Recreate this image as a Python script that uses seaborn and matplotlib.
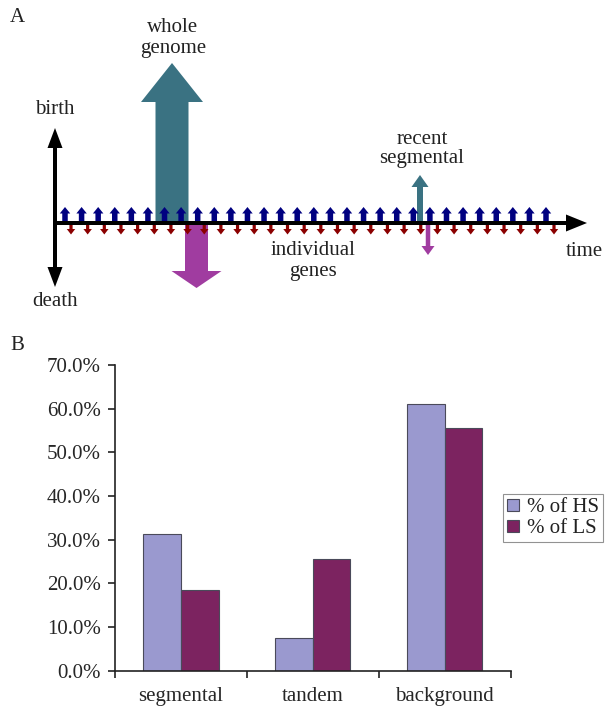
import numpy as np
import pandas as pd
import matplotlib
matplotlib.use("Agg")
import matplotlib.pyplot as plt
import seaborn as sns
from matplotlib.patches import Patch

# ---------------- data ----------------
categories = ["segmental", "tandem", "background"]
series_names = ["% of HS", "% of LS"]
hs_values = [31.3, 7.4, 61.0]
ls_values = [18.5, 25.6, 55.6]
y_ticks = [0, 10, 20, 30, 40, 50, 60, 70]

# diagram (panel A) elements
blue_gene_x = list(np.linspace(65, 546, 30))
red_gene_x = list(np.linspace(71, 554, 30))

HS_COLOR = "#9a99cf"
LS_COLOR = "#7c2360"
TEAL = "#3a7282"
MAGENTA = "#a03ca0"

sns.set_theme(style="white")
plt.rcParams["font.family"] = ["Liberation Serif", "DejaVu Serif"]
plt.rcParams["text.color"] = "#222222"

fig = plt.figure(figsize=(6.05, 7.08), dpi=100)

# ---------------- panel A (pixel-space axes) ----------------
axA = fig.add_axes([0, 378 / 708, 1, 330 / 708])
axA.set_xlim(0, 605)
axA.set_ylim(330, 0)
axA.axis("off")

# big whole-genome arrows
axA.arrow(172, 222, 0, -159, width=33, head_width=62, head_length=39,
          length_includes_head=True, color=TEAL, lw=0, zorder=1)
axA.arrow(196.5, 224, 0, 64, width=23, head_width=50, head_length=17,
          length_includes_head=True, color=MAGENTA, lw=0, zorder=1)
# recent segmental arrows
axA.arrow(420, 222, 0, -47, width=6, head_width=17, head_length=12,
          length_includes_head=True, color=TEAL, lw=0, zorder=1)
axA.arrow(428, 225, 0, 30, width=4.5, head_width=13, head_length=9,
          length_includes_head=True, color=MAGENTA, lw=0, zorder=1)

# individual genes
for x in blue_gene_x:
    axA.arrow(x, 221, 0, -14, width=5.5, head_width=10.5, head_length=6.5,
              length_includes_head=True, color="#000080", lw=0, zorder=2)
for x in red_gene_x:
    axA.arrow(x, 224, 0, 10.5, width=3.2, head_width=8.5, head_length=5.5,
              length_includes_head=True, color="#8b0000", lw=0, zorder=2)

# time axis
axA.arrow(53, 223, 534, 0, width=4, head_width=17, head_length=21,
          length_includes_head=True, color="black", lw=0, zorder=3)
# birth/death double arrow
axA.arrow(55, 223, 0, -95, width=4, head_width=15, head_length=20,
          length_includes_head=True, color="black", lw=0, zorder=3)
axA.arrow(55, 223, 0, 64, width=4, head_width=15, head_length=20,
          length_includes_head=True, color="black", lw=0, zorder=3)

fs = 15
axA.text(17, 17, "A", fontsize=fs, ha="center", va="center")
axA.text(173, 38, "whole\ngenome", fontsize=fs, ha="center", va="center",
         linespacing=1.1)
axA.text(55, 109, "birth", fontsize=fs, ha="center", va="center")
axA.text(55, 301, "death", fontsize=fs, ha="center", va="center")
axA.text(422, 149, "recent\nsegmental", fontsize=fs, ha="center",
         va="center", linespacing=1.0)
axA.text(313, 261, "individual\ngenes", fontsize=fs, ha="center",
         va="center", linespacing=1.1)
axA.text(584, 251, "time", fontsize=fs, ha="center", va="center")

fig.text(17 / 605, 1 - 346 / 708, "B", fontsize=fs, ha="center", va="center")

# ---------------- panel B (bar chart) ----------------
axB = fig.add_axes([115 / 605, 1 - 670.7 / 708, 395.7 / 605, 305.7 / 708])

df = pd.DataFrame({
    "category": categories * 2,
    "series": [series_names[0]] * 3 + [series_names[1]] * 3,
    "value": hs_values + ls_values,
})
sns.barplot(data=df, x="category", y="value", hue="series",
            hue_order=series_names, order=categories,
            palette=[HS_COLOR, LS_COLOR], saturation=1, width=0.57,
            edgecolor="#4a4a5a", linewidth=0.8, ax=axB, legend=False)

axB.set_xlim(-0.5, 2.5)
axB.set_ylim(0, 70)
axB.set_yticks(y_ticks)
axB.set_yticklabels([f"{v:.1f}%" for v in y_ticks])
axB.set_xlabel("")
axB.set_ylabel("")
for s in ["top", "right"]:
    axB.spines[s].set_visible(False)
for s in ["left", "bottom"]:
    axB.spines[s].set_color("#222222")
    axB.spines[s].set_linewidth(1.2)

axB.set_xticks([0, 1, 2])
axB.set_xticklabels(categories)
axB.set_xticks([-0.5, 0.5, 1.5, 2.5], minor=True)
axB.tick_params(axis="x", which="major", length=0, pad=12, labelsize=15)
axB.tick_params(axis="x", which="minor", length=5, width=1.2, direction="out",
                bottom=True, color="#222222")
axB.tick_params(axis="y", length=5, width=1.2, direction="out", left=True,
                pad=5, labelsize=15, color="#222222")

handles = [Patch(facecolor=HS_COLOR, edgecolor="#4a4a5a", lw=0.8),
           Patch(facecolor=LS_COLOR, edgecolor="#4a4a5a", lw=0.8)]
leg = fig.legend(handles, series_names, loc="upper left",
                 bbox_to_anchor=(503 / 605, 1 - 494 / 708),
                 bbox_transform=fig.transFigure, borderaxespad=0,
                 fontsize=15, frameon=True, fancybox=False,
                 handlelength=0.55, handleheight=0.55, handletextpad=0.4,
                 borderpad=0.2, labelspacing=0.1)
leg.get_frame().set_edgecolor("#777777")
leg.get_frame().set_linewidth(0.8)

fig.savefig("out.png", dpi=100)
